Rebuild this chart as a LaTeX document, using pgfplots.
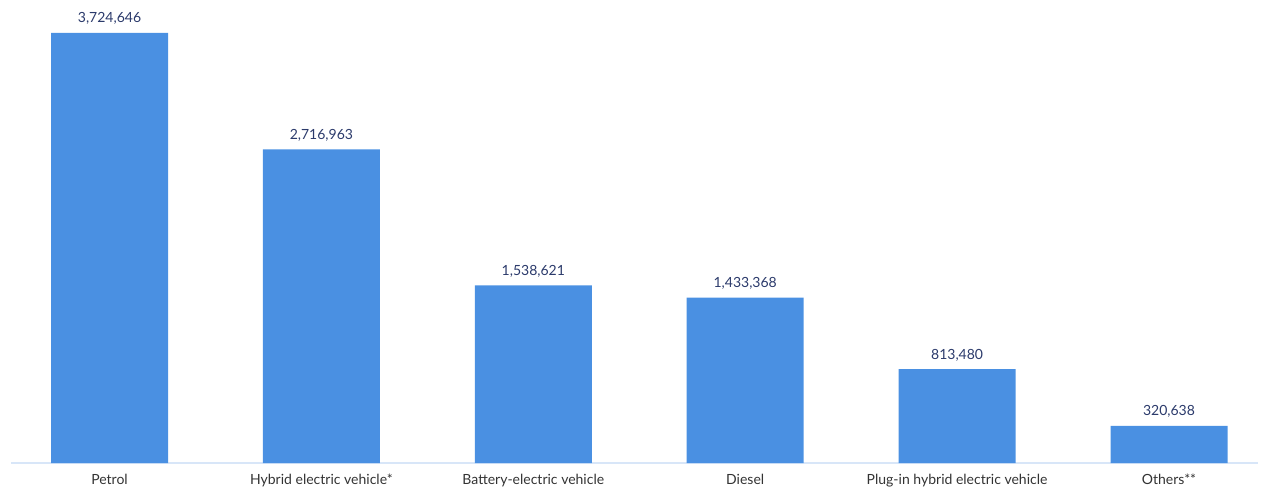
\documentclass[border=0pt]{standalone}
\usepackage{pgfplots}
\pgfplotsset{compat=1.18}
\usepackage{pgfplotstable}
\usepackage{fontspec}
\setmainfont{Lato}
\definecolor{barblue}{HTML}{4A90E2}
\definecolor{valnavy}{HTML}{2B3A6B}
\definecolor{catgray}{HTML}{333333}
\definecolor{basecol}{HTML}{D8E6F8}
\pgfplotstableread{
x y lab
0 3724646 {3,724,646}
1 2716963 {2,716,963}
2 1538621 {1,538,621}
3 1433368 {1,433,368}
4 813480 {813,480}
5 320638 {320,638}
}\datatab
\begin{document}
\begin{tikzpicture}[x=1pt,y=1pt]
\useasboundingbox (-5.5,-12.5) rectangle (626.5,231.5);
\begin{axis}[
  at={(0,0)}, anchor=south west,
  scale only axis,
  width=623.5pt, height=215pt,
  xmin=-0.465, xmax=5.42,
  ymin=0, ymax=3724646,
  axis x line*=bottom,
  axis y line=none,
  x axis line style={draw=basecol, line width=0.8pt, -},
  ytick=\empty,
  xtick={0,...,5},
  xticklabels={Petrol,Hybrid electric vehicle*,Battery-electric vehicle,Diesel,Plug-in hybrid electric vehicle,Others**},
  major tick length=0pt,
  xtick style={draw=none},
  xticklabel style={font=\fontsize{7}{8}\selectfont, text=catgray, anchor=base, inner sep=0pt, yshift=-10.5pt},
  clip=false,
  ybar, bar width=58.5pt,
  nodes near coords,
  point meta=explicit symbolic,
  every node near coord/.append style={font=\fontsize{7}{8}\selectfont, text=valnavy, anchor=base, inner sep=0pt, yshift=5pt},
]
\addplot[fill=barblue, draw=none] table[x=x, y=y, meta=lab] {\datatab};
\end{axis}
\end{tikzpicture}
\end{document}
